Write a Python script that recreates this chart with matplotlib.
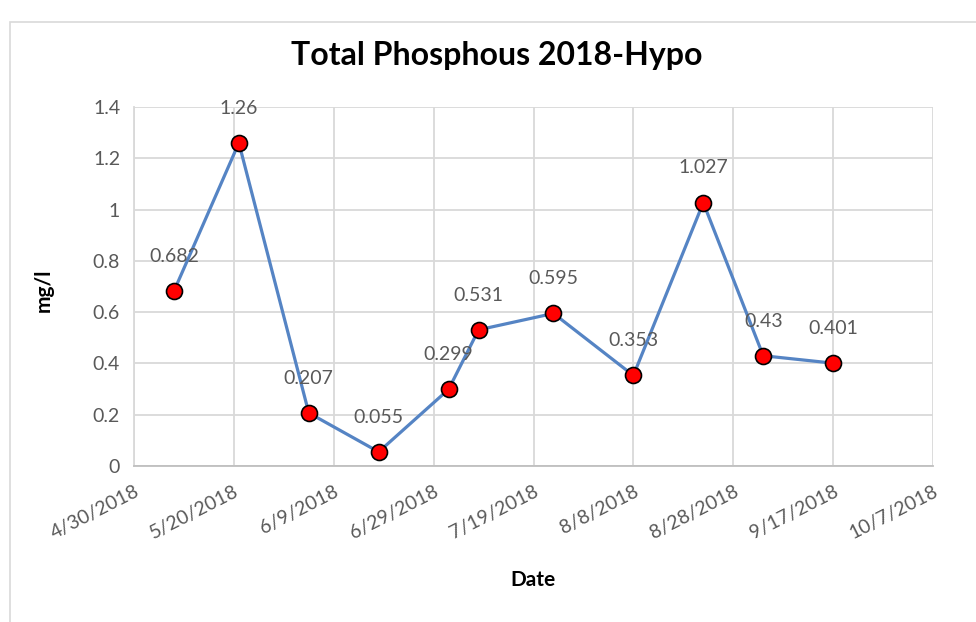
import matplotlib
matplotlib.use("Agg")
import matplotlib.pyplot as plt
import matplotlib.dates as mdates
from matplotlib.patches import Rectangle
import datetime as dt

dates = ["2018-05-08", "2018-05-21", "2018-06-04", "2018-06-18", "2018-07-02",
         "2018-07-08", "2018-07-23", "2018-08-08", "2018-08-22", "2018-09-03",
         "2018-09-17"]
values = [0.682, 1.26, 0.207, 0.055, 0.299, 0.531, 0.595, 0.353, 1.027, 0.43, 0.401]
labels = ["0.682", "1.26", "0.207", "0.055", "0.299", "0.531", "0.595", "0.353",
          "1.027", "0.43", "0.401"]
x_start = "2018-04-30"
x_end = "2018-10-07"
tick_step_days = 20
y_ticks = [0, 0.2, 0.4, 0.6, 0.8, 1, 1.2, 1.4]
y_tick_labels = ["0", "0.2", "0.4", "0.6", "0.8", "1", "1.2", "1.4"]

plt.rcParams['font.family'] = ['Lato', 'DejaVu Sans']

x = [dt.datetime.strptime(d, "%Y-%m-%d") for d in dates]
x0 = dt.datetime.strptime(x_start, "%Y-%m-%d")
x1 = dt.datetime.strptime(x_end, "%Y-%m-%d")
ticks = []
t = x0
while t <= x1:
    ticks.append(t)
    t += dt.timedelta(days=tick_step_days)

fig = plt.figure(figsize=(9.76, 6.22), dpi=100)
fig.patches.append(Rectangle((10/976, -0.1), 1.2, (622-22)/622 + 0.1,
                             transform=fig.transFigure, fill=False,
                             edgecolor="#d9d9d9", lw=1.2))
ax = fig.add_axes([134/976, 156/622, (933-134)/976, (466-107)/622])

ax.plot(x, values, color="#5584c4", lw=2.3, zorder=3,
        marker="o", markersize=11.5, markerfacecolor="#ff0000",
        markeredgecolor="black", markeredgewidth=1.2)
for xi, v, lab in zip(x, values, labels):
    ax.annotate(lab, (xi, v), xytext=(0, 25), textcoords="offset points",
                ha="center", va="center", fontsize=14, color="#595959")

ax.set_xlim(x0, x1)
ax.set_ylim(0, 1.4)
ax.set_xticks(ticks)
ax.set_xticklabels([f"{d.month}/{d.day}/{d.year}" for d in ticks],
                   rotation=27, ha="right", rotation_mode="anchor",
                   fontsize=14, color="#595959")
ax.set_yticks(y_ticks)
ax.set_yticklabels(y_tick_labels, fontsize=14, color="#595959")
ax.tick_params(axis="both", length=0, pad=10)
ax.tick_params(axis="x", pad=12)
ax.grid(True, color="#d9d9d9", lw=1.3)
ax.set_axisbelow(True)
for s in ["top", "right"]:
    ax.spines[s].set_visible(False)
ax.spines["left"].set_color("#d9d9d9")
ax.spines["bottom"].set_color("#bfbfbf")
ax.spines["left"].set_linewidth(1.3)
ax.spines["bottom"].set_linewidth(1.3)

fig.text(44/976, 1 - 290/622, "mg/l", ha="center", va="center", rotation=90,
         fontsize=15, fontweight="bold")
fig.text(533/976, 1 - 580/622, "Date", ha="center", va="center",
         fontsize=15, fontweight="bold")
fig.text(497/976, 1 - 55/622, "Total Phosphous 2018-Hypo", ha="center",
         va="center", fontsize=23, fontweight="bold")

fig.savefig("out.png", dpi=100)
